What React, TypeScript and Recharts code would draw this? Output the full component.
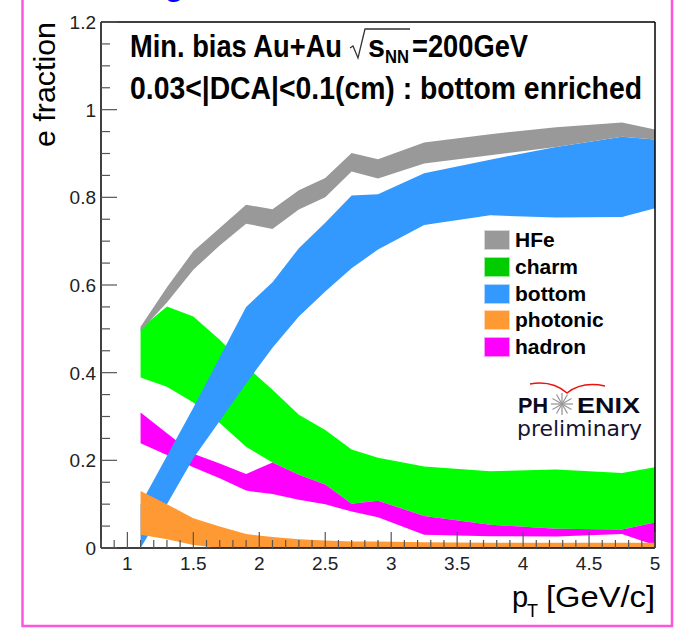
import React from 'react';
import { ComposedChart, Area, XAxis, YAxis, Legend } from 'recharts';

// pT bins (GeV/c)
const pt = [1.1, 1.3, 1.5, 1.7, 1.9, 2.1, 2.3, 2.5, 2.7, 2.9, 3.25, 3.75, 4.25, 4.75, 5.0];

// band edges
const hfeLow = [0.495, 0.56, 0.635, 0.69, 0.74, 0.728, 0.772, 0.8, 0.859, 0.843, 0.877, 0.896, 0.915, 0.938, 0.932];
const hfeHigh = [0.505, 0.595, 0.677, 0.73, 0.783, 0.773, 0.816, 0.844, 0.901, 0.887, 0.925, 0.944, 0.96, 0.971, 0.955];
const charmLow = [0.389, 0.368, 0.332, 0.285, 0.231, 0.195, 0.167, 0.145, 0.101, 0.108, 0.073, 0.053, 0.044, 0.042, 0.058];
const charmHigh = [0.501, 0.551, 0.528, 0.475, 0.415, 0.361, 0.304, 0.269, 0.225, 0.206, 0.186, 0.175, 0.179, 0.171, 0.184];
const bottomLow = [0.0, 0.1, 0.205, 0.29, 0.375, 0.457, 0.528, 0.585, 0.638, 0.681, 0.737, 0.759, 0.754, 0.755, 0.775];
const bottomHigh = [0.1, 0.21, 0.32, 0.435, 0.55, 0.606, 0.684, 0.742, 0.804, 0.807, 0.855, 0.886, 0.915, 0.938, 0.932];
const photonicLow = [0.03, 0.02, 0.007, 0.0, 0.0, 0.0, 0.0, 0.0, 0.0, 0.0, 0.0, 0.0, 0.0, 0.0, 0.0];
const photonicHigh = [0.13, 0.1, 0.068, 0.049, 0.032, 0.025, 0.02, 0.017, 0.015, 0.015, 0.013, 0.012, 0.012, 0.012, 0.012];
const hadronLow = [0.239, 0.212, 0.184, 0.159, 0.131, 0.123, 0.11, 0.1, 0.083, 0.07, 0.03, 0.027, 0.026, 0.032, 0.006];
const hadronHigh = [0.309, 0.262, 0.215, 0.193, 0.169, 0.195, 0.167, 0.145, 0.101, 0.108, 0.073, 0.053, 0.044, 0.042, 0.058];

const legendNames = ['HFe', 'charm', 'bottom', 'photonic', 'hadron'];
const legendColors = ['#999999', '#00cc00', '#3399ff', '#ff9933', '#ff00ff'];

const xTicks = [0.8, 0.9, 1, 1.1, 1.2, 1.3, 1.4, 1.5, 1.6, 1.7, 1.8, 1.9, 2, 2.1, 2.2, 2.3, 2.4, 2.5, 2.6, 2.7, 2.8, 2.9, 3,
  3.1, 3.2, 3.3, 3.4, 3.5, 3.6, 3.7, 3.8, 3.9, 4, 4.1, 4.2, 4.3, 4.4, 4.5, 4.6, 4.7, 4.8, 4.9, 5];
const xLabelValues = [1, 1.5, 2, 2.5, 3, 3.5, 4, 4.5, 5];
const xLabels = ['1', '1.5', '2', '2.5', '3', '3.5', '4', '4.5', '5'];

const yTicks = [0, 0.05, 0.1, 0.15, 0.2, 0.25, 0.3, 0.35, 0.4, 0.45, 0.5, 0.55, 0.6, 0.65, 0.7, 0.75, 0.8, 0.85, 0.9,
  0.95, 1, 1.05, 1.1, 1.15, 1.2];
const yLabelValues = [0, 0.2, 0.4, 0.6, 0.8, 1, 1.2];
const yLabels = ['0', '0.2', '0.4', '0.6', '0.8', '1', '1.2'];

const data = pt.map((p, i) => ({
  pt: p,
  hfe: [hfeLow[i], hfeHigh[i]],
  charm: [charmLow[i], charmHigh[i]],
  bottom: [bottomLow[i], bottomHigh[i]],
  photonic: [photonicLow[i], photonicHigh[i]],
  hadron: [hadronLow[i], hadronHigh[i]],
}));

const FONT = '"Liberation Sans", Arial, Helvetica, sans-serif';
const TICK = '#555';

function XTick(props: any) {
  const { x, y, payload } = props;
  const idx = xLabelValues.indexOf(payload.value);
  const major = idx >= 0;
  return (
    <g>
      <line x1={x} x2={x} y1={y} y2={y - (major ? 16 : 8)} stroke={TICK} strokeWidth={1.2} />
      {major && (
        <text x={x} y={y + 22} textAnchor="middle" fontFamily={FONT} fontSize={19} fill="#222">
          {xLabels[idx]}
        </text>
      )}
    </g>
  );
}

function YTick(props: any) {
  const { x, y, payload } = props;
  const idx = yLabelValues.indexOf(payload.value);
  const major = idx >= 0;
  return (
    <g>
      <line x1={x} x2={x + (major ? 16 : 9)} y1={y} y2={y} stroke={TICK} strokeWidth={1.2} />
      {major && (
        <text x={x - 5} y={y + 7} textAnchor="end" fontFamily={FONT} fontSize={19} fill="#222">
          {yLabels[idx]}
        </text>
      )}
    </g>
  );
}

function LegendBox() {
  return (
    <div style={{ fontFamily: FONT, fontWeight: 'bold', fontSize: 21, color: '#000' }}>
      {legendNames.map((n, i) => (
        <div key={n} style={{ display: 'flex', alignItems: 'center', height: 26.7 }}>
          <div
            style={{
              width: 24,
              height: 18,
              background: legendColors[i],
              border: '1px solid rgba(255,255,255,0.6)',
              marginRight: 5,
            }}
          />
          <span>{n}</span>
        </div>
      ))}
    </div>
  );
}

function Star() {
  const spokes = Array.from({ length: 12 }, (_, k) => (k * Math.PI) / 6);
  return (
    <g stroke="#9a9a9a" strokeWidth={1.3}>
      {spokes.map((a, k) => (
        <line key={k} x1={562} y1={404} x2={562 + 11 * Math.cos(a)} y2={404 + 11 * Math.sin(a)} />
      ))}
    </g>
  );
}

export default function App() {
  return (
    <div style={{ position: 'absolute', left: 0, top: 0, width: 682, height: 628, background: '#fff' }}>
      <ComposedChart width={682} height={628} data={data} margin={{ top: 21, right: 26, bottom: 50, left: 61 }}>
        <XAxis
          dataKey="pt"
          type="number"
          domain={[0.8, 5]}
          allowDataOverflow
          ticks={xTicks}
          interval={0}
          tickSize={0}
          tickMargin={0}
          tickLine={false}
          tick={<XTick />}
          axisLine={{ stroke: '#000', strokeWidth: 1.5 }}
          height={30}
        />
        <XAxis
          xAxisId="top"
          orientation="top"
          type="number"
          domain={[0.8, 5]}
          tick={false}
          tickLine={false}
          axisLine={{ stroke: '#000', strokeWidth: 1.5 }}
          height={1}
        />
        <YAxis
          type="number"
          domain={[0, 1.2]}
          allowDataOverflow
          ticks={yTicks}
          interval={0}
          tickSize={0}
          tickMargin={0}
          tickLine={false}
          tick={<YTick />}
          axisLine={{ stroke: '#000', strokeWidth: 1.5 }}
          width={40}
        />
        <YAxis
          yAxisId="right"
          orientation="right"
          type="number"
          domain={[0, 1.2]}
          tick={false}
          tickLine={false}
          axisLine={{ stroke: '#000', strokeWidth: 1.5 }}
          width={1}
        />
        <Area type="linear" dataKey="charm" name="charm" fill="#00ff00" fillOpacity={1} stroke="none" dot={false} activeDot={false} isAnimationActive={false} />
        <Area type="linear" dataKey="hadron" name="hadron" fill="#ff00ff" fillOpacity={1} stroke="none" dot={false} activeDot={false} isAnimationActive={false} />
        <Area type="linear" dataKey="bottom" name="bottom" fill="#3399ff" fillOpacity={1} stroke="none" dot={false} activeDot={false} isAnimationActive={false} />
        <Area type="linear" dataKey="photonic" name="photonic" fill="#ff9933" fillOpacity={1} stroke="none" dot={false} activeDot={false} isAnimationActive={false} />
        <Area type="linear" dataKey="hfe" name="HFe" fill="#999999" fillOpacity={1} stroke="none" dot={false} activeDot={false} isAnimationActive={false} />
        <Legend
          layout="vertical"
          align="center"
          verticalAlign="middle"
          content={() => <LegendBox />}
          wrapperStyle={{ left: 484, top: 227, width: 170, height: 135 }}
        />
      </ComposedChart>

      <svg
        width={682}
        height={628}
        style={{ position: 'absolute', left: 0, top: 0, pointerEvents: 'none' }}
      >
        <rect x={22.5} y={-5} width={649.5} height={631} fill="none" stroke="#ff55dd" strokeWidth={2.5} />
        <text x={165} y={-4} fontFamily={FONT} fontWeight="bold" fontSize={30} fill="#0000ff">g</text>

        <g fontFamily={FONT} fontWeight="bold" fill="#000">
          <text x={130} y={57} fontSize={32} textLength={212} lengthAdjust="spacingAndGlyphs">Min. bias Au+Au</text>
          <path d="M350,48 L353,46 L358,58 L365,29 L410,29" fill="none" stroke="#333" strokeWidth={1.3} />
          <text x={368} y={57} fontSize={32} textLength={17} lengthAdjust="spacingAndGlyphs">s</text>
          <text x={385} y={63} fontSize={18} textLength={24} lengthAdjust="spacingAndGlyphs">NN</text>
          <text x={412} y={57} fontSize={32} textLength={116} lengthAdjust="spacingAndGlyphs">=200GeV</text>
          <text x={130} y={99} fontSize={32} textLength={512} lengthAdjust="spacingAndGlyphs">
            0.03&lt;|DCA|&lt;0.1(cm) : bottom enriched
          </text>
        </g>

        <text
          transform="translate(55,22) rotate(-90)"
          textAnchor="end"
          fontFamily={FONT}
          fontSize={30}
          fill="#000"
          textLength={125}
          lengthAdjust="spacingAndGlyphs"
        >
          e fraction
        </text>

        <g fontFamily={FONT} fill="#000">
          <text x={512} y={607} fontSize={29}>p</text>
          <text x={527} y={617} fontSize={18}>T</text>
          <text x={546} y={607} fontSize={29} textLength={109} lengthAdjust="spacingAndGlyphs">[GeV/c]</text>
        </g>

        <path d="M530,384 Q552,380 567,393 Q582,381 605,386" fill="none" stroke="#ee1111" strokeWidth={1.6} />
        <g fontFamily={FONT} fontWeight="bold" fontSize={22} fill="#0a0a1a">
          <text x={518} y={413} textLength={30} lengthAdjust="spacingAndGlyphs">PH</text>
          <text x={577} y={413} textLength={63} lengthAdjust="spacingAndGlyphs">ENIX</text>
        </g>
        <Star />
        <text x={517} y={436} fontFamily='"DejaVu Sans", sans-serif' fontSize={21} fill="#141432" textLength={125} lengthAdjust="spacingAndGlyphs">
          preliminary
        </text>
      </svg>
    </div>
  );
}
